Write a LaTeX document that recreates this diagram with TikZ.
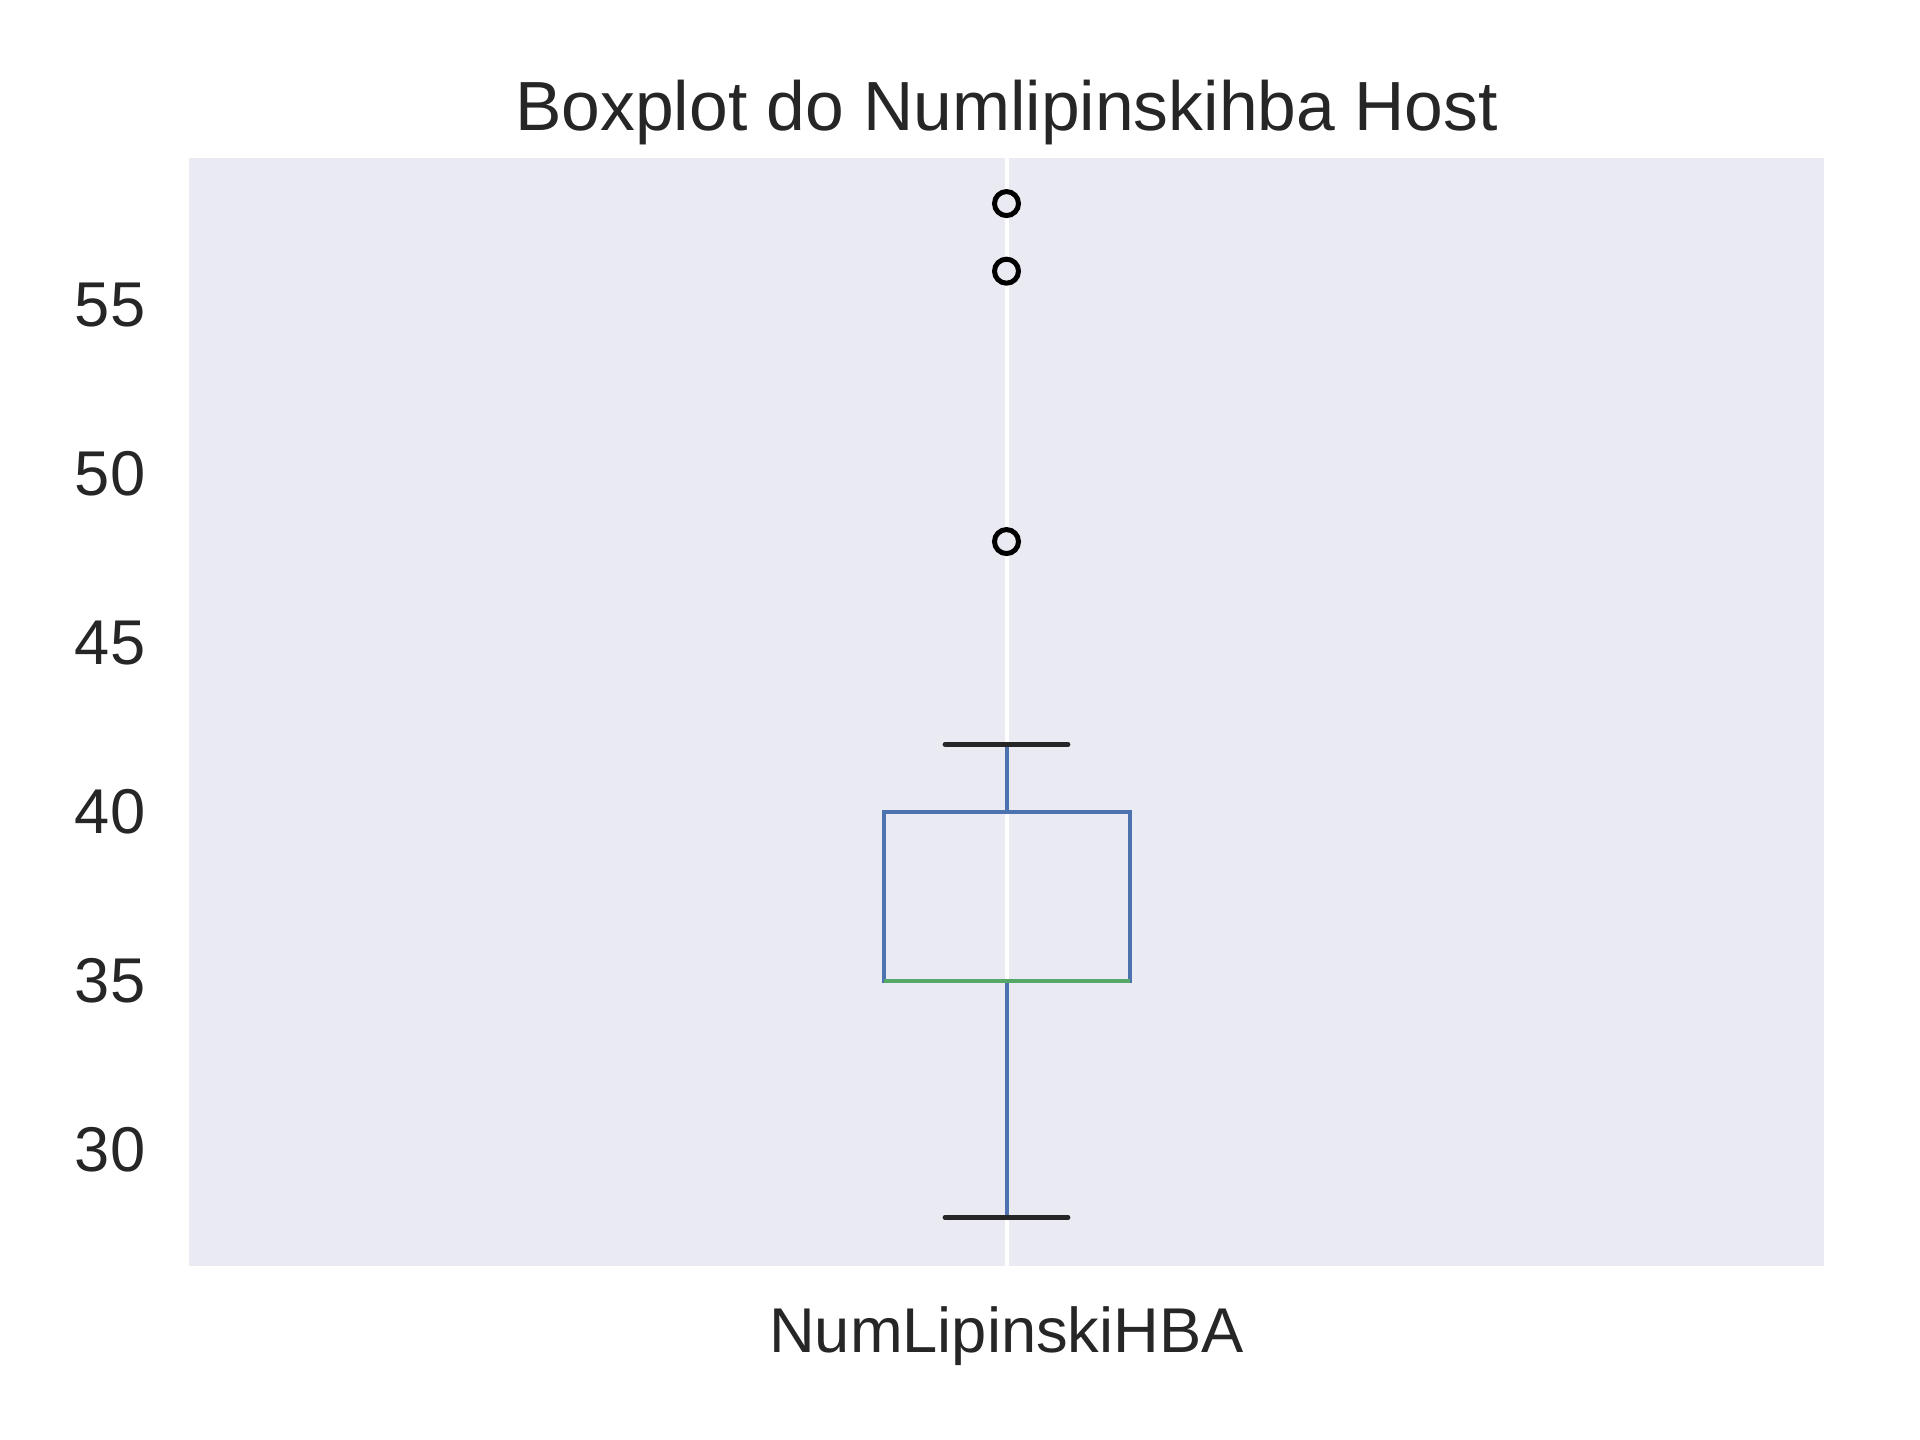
\documentclass[tikz,border=0pt]{standalone}
\usepackage{fontspec}
\setmainfont{Liberation Sans}

\begin{document}
\begin{tikzpicture}[x = 0.1mm, y = 0.1mm]
\definecolor{bgColor}{HTML}{EAEAF2}
\definecolor{boxBlue}{HTML}{4C72B0}
\definecolor{medianGreen}{HTML}{55A868}
\definecolor{textGray}{HTML}{262626}
\tikzstyle{gridStyle} = [draw = white, line width = 1.14pt]
\tikzstyle{boxStyle} = [draw = boxBlue, line width = 1.14pt]
\tikzstyle{medianStyle} = [draw = medianGreen, line width = 1.14pt]
\tikzstyle{capStyle} = [draw = textGray, line width = 1.35pt, line cap = round]
\tikzstyle{flierStyle} = [shape = circle, minimum size = 2.4mm, inner sep = 0pt, draw = black, fill = bgColor, line width = 1.42pt]
\tikzstyle{tickStyle} = [text = textGray, inner sep = 0pt, font = \fontsize{18}{22}\selectfont]
\tikzstyle{titleStyle} = [text = textGray, inner sep = 0pt, font = \fontsize{19.8}{24}\selectfont]
\useasboundingbox (0,0) rectangle (1920,1440);
\fill[bgColor] (189,174) rectangle (1824,1282);
\coordinate (gridTop) at (1006.5,1282);
\coordinate (gridBottom) at (1006.5,174);
\draw[gridStyle] (gridBottom) -- (gridTop);
\begin{scope}[yshift = -72.4mm, y = 3.38mm]
\coordinate (boxLow) at (883.5,35);
\coordinate (boxHigh) at (1129.5,40);
\coordinate (q1) at (1006.5,35);
\coordinate (q3) at (1006.5,40);
\coordinate (whiskerLow) at (1006.5,28);
\coordinate (whiskerHigh) at (1006.5,42);
\coordinate (capLowL) at (945,28);
\coordinate (capLowR) at (1068,28);
\coordinate (capHighL) at (945,42);
\coordinate (capHighR) at (1068,42);
\coordinate (medianL) at (883.5,35);
\coordinate (medianR) at (1129.5,35);
\draw[boxStyle] (whiskerLow) -- (q1);
\draw[boxStyle] (q3) -- (whiskerHigh);
\draw[boxStyle] (boxLow) rectangle (boxHigh);
\draw[medianStyle] (medianL) -- (medianR);
\draw[capStyle] (capLowL) -- (capLowR);
\draw[capStyle] (capHighL) -- (capHighR);
\node[flierStyle] (flier48) at (1006.5,48) {};
\node[flierStyle] (flier56) at (1006.5,56) {};
\node[flierStyle] (flier58) at (1006.5,58) {};
\node[tickStyle, anchor = east] (ytick30) at (146,30) {30};
\node[tickStyle, anchor = east] (ytick35) at (146,35) {35};
\node[tickStyle, anchor = east] (ytick40) at (146,40) {40};
\node[tickStyle, anchor = east] (ytick45) at (146,45) {45};
\node[tickStyle, anchor = east] (ytick50) at (146,50) {50};
\node[tickStyle, anchor = east] (ytick55) at (146,55) {55};
\end{scope}
\node[tickStyle, anchor = base] (xtick) at (1006.5,87) {NumLipinskiHBA};
\node[titleStyle, anchor = base] (title) at (1006.5,1309) {Boxplot do Numlipinskihba Host};
\end{tikzpicture}
\end{document}
